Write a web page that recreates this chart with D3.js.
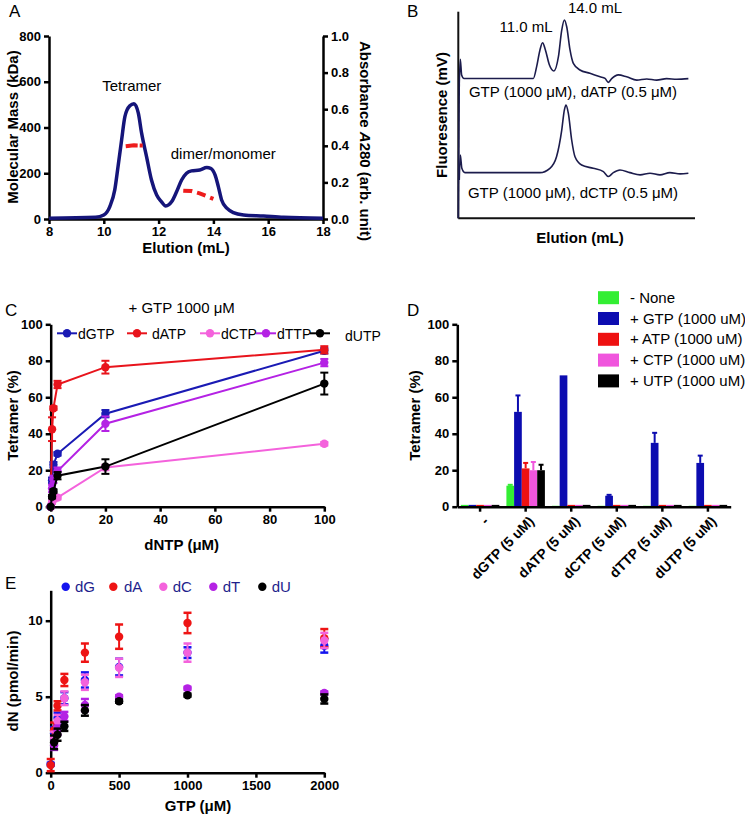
<!DOCTYPE html>
<html><head><meta charset="utf-8">
<script src="https://cdn.jsdelivr.net/npm/d3@7"></script>
<style>
body{margin:0;background:#fff;}
svg{display:block;font-family:'Liberation Sans',Arial,Helvetica,sans-serif;}
.axis path,.axis line{stroke:#000;stroke-width:2.5px;}
.axis text{font-size:13px;font-weight:bold;fill:#000;font-family:'Liberation Sans',Arial,Helvetica,sans-serif;}
.title{font-size:15px;font-weight:bold;fill:#000;}
.lbl{font-size:15px;fill:#000;}
.panel{font-size:17px;fill:#000;}
</style></head><body>
<svg id="fig" width="745" height="819"></svg>
<script>
// ---------- Panel A data ----------
const elutionA = [8, 9.7, 10.0, 10.22, 10.4, 10.52, 10.65, 10.77, 10.95, 11.1, 11.26, 11.38, 11.56, 11.74, 11.93, 12.1, 12.26, 12.48, 12.66, 12.84, 13.02, 13.2, 13.5, 13.76, 13.9, 14.06, 14.18, 14.3, 14.5, 14.73, 15.1, 15.83, 16.56, 18];
const absorbanceA = [0.004, 0.009, 0.022, 0.068, 0.159, 0.287, 0.432, 0.56, 0.619, 0.63, 0.578, 0.469, 0.341, 0.213, 0.131, 0.095, 0.071, 0.095, 0.15, 0.213, 0.25, 0.263, 0.268, 0.281, 0.277, 0.241, 0.177, 0.104, 0.058, 0.035, 0.022, 0.016, 0.009, 0.004];
const tetramerMassX = [10.8, 11.1, 11.42];
const tetramerMassY = [318, 322, 321];
const dimerMassX = [12.9, 13.2, 13.5, 13.75, 14.0];
const dimerMassY = [124, 122, 112, 100, 88];
const massTicks = [0, 200, 400, 600, 800];
const absTicks = [0, 0.2, 0.4, 0.6, 0.8, 1.0];
const elutionTicks = [8, 10, 12, 14, 16, 18];

// ---------- Panel B data (arbitrary units) ----------
const traceTopX = [0.4, 0.85, 1.4, 2.4, 31.7, 33.1, 34.5, 35.6, 36.8, 38.5, 40.4, 42.3, 43.7, 44.8, 45.8, 47.2, 48.6, 51.4, 55.6, 59.9, 62, 63.4, 64.8, 67.6, 71.1, 75.4, 79.6, 83.8, 88, 92.3, 97.2];
const traceTopY = [65, 77, 69.4, 67.7, 67.7, 73.4, 81.5, 85, 81.5, 74.2, 71.3, 78.2, 91.1, 96, 92.7, 81.5, 75, 71.8, 70.2, 68.5, 67.7, 65.8, 67.6, 69.4, 68.5, 66.9, 67.4, 66.9, 67.6, 67.3, 67.6];
const traceBotX = [0.4, 0.85, 1.5, 2.8, 34.5, 38.7, 41.5, 43.7, 44.8, 45.5, 46.5, 47.9, 49.3, 52.1, 57, 61.3, 63.4, 65.5, 68.3, 72.5, 76.8, 81, 85.2, 89.4, 93.7, 97.2];
const traceBotY = [18.5, 30.6, 24.2, 22.1, 22.1, 24.2, 29.8, 42.7, 52.4, 54.8, 50.8, 37.9, 29.8, 25.8, 24.2, 22.6, 20.2, 22.1, 23.4, 22.1, 21, 21.8, 21, 22.1, 21.5, 21.8];

// ---------- Panel C data ----------
const dntpConc = [0, 0.5, 1, 2.5, 20, 100];
const cNames = ["dGTP", "dATP", "dCTP", "dTTP", "dUTP"];
const cGTP = [0, 14.5, 23, 29, 51, 85.5];
const cGTPerr = [0, 1.5, 1.5, 1, 2, 1.5];
const cATP = [0, 42.5, 54, 67, 76.5, 86];
const cATPerr = [0, 6.5, 1, 2, 3.5, 2];
const cCTP = [0, 2.5, 4, 5, 21.5, 34.5];
const cCTPerr = [0, 1, 1, 1, 1.5, 1];
const cTTP = [0, 10, 15, 19.5, 45.5, 79];
const cTTPerr = [0, 2, 2, 2, 4, 2];
const cUTP = [0, 5.5, 8.5, 17, 22, 67.5];
const cUTPerr = [0, 1, 1, 2, 4, 6];
const pctTicks = [0, 20, 40, 60, 80, 100];

// ---------- Panel D data ----------
const dGroups = ["-", "dGTP (5 uM)", "dATP (5 uM)", "dCTP (5 uM)", "dTTP (5 uM)", "dUTP (5 uM)"];
const dSeries = ["-  None", "+ GTP (1000 uM)", "+ ATP (1000 uM)", "+ CTP (1000 uM)", "+ UTP (1000 uM)"];
const dNone = [1, 11.5, 0.5, 0.5, 0.5, 0.5];
const dNoneErr = [0, 0.5, 0, 0, 0, 0];
const dGTPv = [1, 52, 72, 6, 35, 24];
const dGTPerr = [0, 9, 0, 0.5, 5.5, 4];
const dATPv = [1, 21, 1, 1, 1, 1];
const dATPerr = [0, 3, 0, 0, 0, 0];
const dCTPv = [1, 20, 1, 1, 1, 1];
const dCTPerr = [0, 4.5, 0, 0, 0, 0];
const dUTPv = [1, 20, 1, 1, 1, 1];
const dUTPerr = [0, 3, 0, 0, 0, 0];

// ---------- Panel E data ----------
const gtpConc = [0, 25, 50, 100, 250, 500, 1000, 2000];
const eNames = ["dG", "dA", "dC", "dT", "dU"];
const eG = [0.55, 2.6, 3.6, 4.9, 6.1, 6.95, 7.9, 8.35];
const eGerr = [0.1, 0.4, 0.35, 0.4, 0.5, 0.55, 0.35, 0.45];
const eA = [0.5, 2.8, 4.4, 6.1, 7.9, 8.95, 9.85, 8.85];
const eAerr = [0.4, 0.5, 0.3, 0.4, 0.6, 0.8, 0.67, 0.6];
const eC = [null, 2.3, 3.4, 4.9, 5.95, 6.9, 7.9, 8.7];
const eCerr = [0, 0.4, 0.4, 0.45, 0.5, 0.6, 0.6, 0.5];
const eT = [null, 1.8, 2.8, 3.7, 4.45, 5.0, 5.55, 5.25];
const eTerr = [0, 0.3, 0.3, 0.3, 0.4, 0.1, 0.1, 0.1];
const eU = [null, 2.0, 2.5, 3.05, 4.1, 4.7, 5.1, 4.85];
const eUerr = [0, 0.45, 0.4, 0.3, 0.35, 0.1, 0.1, 0.3];
const eTicksX = [0, 500, 1000, 1500, 2000];
const eTicksY = [0, 5, 10];

// ---------- drawing ----------
const svg = d3.select("#fig");
const TS = 5;
function ax(g) { g.attr("class", "axis"); return g; }

// ===== Panel A =====
(function(){
  const x = d3.scaleLinear().domain([8, 18]).range([49, 323]);
  const yL = d3.scaleLinear().domain([0, 800]).range([219, 36]);
  const yR = d3.scaleLinear().domain([0, 1]).range([219, 36]);
  const g = svg.append("g");
  g.append("g").call(ax).attr("transform", "translate(0,219)")
    .call(d3.axisBottom(x).tickValues(elutionTicks).tickSize(TS).tickSizeOuter(0).tickFormat(d3.format("d")));
  g.append("g").call(ax).attr("transform", "translate(49,0)")
    .call(d3.axisLeft(yL).tickValues(massTicks).tickSize(TS).tickSizeOuter(0));
  g.append("g").call(ax).attr("transform", "translate(323,0)")
    .call(d3.axisRight(yR).tickValues(absTicks).tickSize(TS).tickSizeOuter(0).tickFormat(d3.format(".1f")));
  const pts = elutionA.map((e, i) => [e, absorbanceA[i]]);
  g.append("path").datum(pts).attr("fill", "none").attr("stroke", "#15157a").attr("stroke-width", 3.5)
    .attr("d", d3.line().x(d => x(d[0])).y(d => yR(d[1])).curve(d3.curveMonotoneX));
  const ml = d3.line().x(d => x(d[0])).y(d => yL(d[1]));
  g.append("path").datum(tetramerMassX.map((e, i) => [e, tetramerMassY[i]]))
    .attr("fill", "none").attr("stroke", "#ee1c1c").attr("stroke-width", 4).attr("stroke-dasharray", "12,2").attr("d", ml);
  g.append("path").datum(dimerMassX.map((e, i) => [e, dimerMassY[i]]))
    .attr("fill", "none").attr("stroke", "#ee1c1c").attr("stroke-width", 4).attr("stroke-dasharray", "9,5").attr("d", ml);
  g.append("text").attr("class", "panel").attr("x", 9).attr("y", 17).text("A");
  g.append("text").attr("class", "lbl").attr("x", x(11.02)).attr("y", 91).attr("text-anchor", "middle").text("Tetramer");
  g.append("text").attr("class", "lbl").attr("x", x(14.36)).attr("y", 159).attr("text-anchor", "middle").text("dimer/monomer");
  g.append("text").attr("class", "title").attr("transform", "translate(18,127) rotate(-90)").attr("text-anchor", "middle").text("Molecular Mass (kDa)");
  const t = g.append("text").attr("class", "title").attr("transform", "translate(360,141) rotate(90)").attr("text-anchor", "middle");
  t.append("tspan").text("Absorbance ");
  t.append("tspan").attr("font-style", "italic").text("A");
  t.append("tspan").text("280 (arb. unit)");
  g.append("text").attr("class", "title").attr("x", 186).attr("y", 253).attr("text-anchor", "middle").text("Elution (mL)");
})();

// ===== Panel B =====
(function(){
  const x = d3.scaleLinear().domain([0, 100]).range([458.3, 695]);
  const y = d3.scaleLinear().domain([0, 100]).range([218.3, 11.7]);
  const g = svg.append("g");
  g.append("line").attr("x1", x(0)).attr("x2", x(0)).attr("y1", y(0)).attr("y2", y(100)).attr("stroke", "#111").attr("stroke-width", 2);
  g.append("line").attr("x1", x(0)).attr("x2", x(100)).attr("y1", y(0)).attr("y2", y(0)).attr("stroke", "#111").attr("stroke-width", 2);
  const line = d3.line().x(d => x(d[0])).y(d => y(d[1])).curve(d3.curveMonotoneX);
  g.append("path").datum(traceTopX.map((v, i) => [v, traceTopY[i]])).attr("fill", "none").attr("stroke", "#1c1c4c").attr("stroke-width", 1.6).attr("d", line);
  g.append("path").datum(traceBotX.map((v, i) => [v, traceBotY[i]])).attr("fill", "none").attr("stroke", "#1c1c4c").attr("stroke-width", 1.6).attr("d", line);
  g.append("path").datum([[0, 0], [0.4, 65]]).attr("fill", "none").attr("stroke", "#1c1c4c").attr("stroke-width", 1.6).attr("d", d3.line().x(d => x(d[0])).y(d => y(d[1])));
  g.append("text").attr("class", "panel").attr("x", 407).attr("y", 17).text("B");
  g.append("text").attr("class", "lbl").attr("x", 526).attr("y", 32).attr("text-anchor", "middle").text("11.0 mL");
  g.append("text").attr("class", "lbl").attr("x", 595).attr("y", 13).attr("text-anchor", "middle").text("14.0 mL");
  g.append("text").attr("class", "lbl").attr("x", 573).attr("y", 97).attr("text-anchor", "middle").text("GTP (1000 \u03bcM), dATP (0.5 \u03bcM)");
  g.append("text").attr("class", "lbl").attr("x", 573).attr("y", 198).attr("text-anchor", "middle").text("GTP (1000 \u03bcM), dCTP (0.5 \u03bcM)");
  g.append("text").attr("class", "title").attr("transform", "translate(447,115) rotate(-90)").attr("text-anchor", "middle").text("Fluoresence (mV)");
  g.append("text").attr("class", "title").attr("x", 580).attr("y", 243).attr("text-anchor", "middle").text("Elution (mL)");
})();

// ===== Panel C =====
(function(){
  const x = d3.scaleLinear().domain([0, 100]).range([50.7, 324.3]);
  const y = d3.scaleLinear().domain([0, 100]).range([506.7, 324.3]);
  const g = svg.append("g");
  g.append("g").call(ax).attr("transform", "translate(0,506.7)")
    .call(d3.axisBottom(x).tickValues(pctTicks).tickSize(TS).tickSizeOuter(0));
  g.append("g").call(ax).attr("transform", "translate(50.7,0)")
    .call(d3.axisLeft(y).tickValues(pctTicks).tickSize(TS).tickSizeOuter(0));
  const series = [
    {v: cGTP, e: cGTPerr, c: "#1a1ab4"},
    {v: cATP, e: cATPerr, c: "#e8141c"},
    {v: cCTP, e: cCTPerr, c: "#f462dc"},
    {v: cTTP, e: cTTPerr, c: "#b422e4"},
    {v: cUTP, e: cUTPerr, c: "#000000"}
  ];
  const line = d3.line().x(d => x(d[0])).y(d => y(d[1]));
  series.forEach(s => {
    const pts = dntpConc.map((c, i) => [c, s.v[i], s.e[i]]);
    const sg = g.append("g");
    sg.append("path").datum(pts).attr("fill", "none").attr("stroke", s.c).attr("stroke-width", 2).attr("d", line);
    pts.filter(p => p[2] > 0).forEach(p => {
      const xx = x(p[0]);
      sg.append("line").attr("x1", xx).attr("x2", xx).attr("y1", y(p[1] - p[2])).attr("y2", y(p[1] + p[2])).attr("stroke", s.c).attr("stroke-width", 2);
      [p[1] - p[2], p[1] + p[2]].forEach(v => sg.append("line").attr("x1", xx - 4).attr("x2", xx + 4).attr("y1", y(v)).attr("y2", y(v)).attr("stroke", s.c).attr("stroke-width", 2));
    });
    sg.selectAll("circle").data(pts).join("circle").attr("cx", d => x(d[0])).attr("cy", d => y(d[1])).attr("r", 4.2).attr("fill", s.c);
  });
  // legend
  const legX = [67, 137, 210, 266, 320];
  const legT = [78, 152, 221, 277, 345];
  const legTy = [338.5, 338.5, 338.5, 338.5, 341];
  series.forEach((s, i) => {
    const cy = 333.3;
    g.append("line").attr("x1", legX[i] - 10).attr("x2", legX[i] + 10).attr("y1", cy).attr("y2", cy).attr("stroke", s.c).attr("stroke-width", 2);
    g.append("circle").attr("cx", legX[i]).attr("cy", cy).attr("r", 4.2).attr("fill", s.c);
    g.append("text").attr("class", "lbl").style("font-size", "14px").attr("x", legT[i]).attr("y", legTy[i]).text(cNames[i]);
  });
  g.append("text").attr("class", "panel").attr("x", 5).attr("y", 316).text("C");
  g.append("text").attr("class", "lbl").attr("x", 181.7).attr("y", 313).attr("text-anchor", "middle").text("+ GTP 1000 \u03bcM");
  g.append("text").attr("class", "title").attr("transform", "translate(18,415.5) rotate(-90)").attr("text-anchor", "middle").text("Tetramer (%)");
  g.append("text").attr("class", "title").attr("x", 181.7).attr("y", 550).attr("text-anchor", "middle").text("dNTP (\u03bcM)");
})();

// ===== Panel D =====
(function(){
  const x0 = d3.scaleBand().domain(dGroups).range([457.3, 730.7]).paddingInner(0).paddingOuter(0);
  const x1 = d3.scaleBand().domain(dSeries).range([0, x0.bandwidth()]).paddingInner(0).paddingOuter(0.46);
  const y = d3.scaleLinear().domain([0, 100]).range([506.7, 324.3]);
  const colors = ["#33ee33", "#0c0cb0", "#ee1111", "#f055dd", "#000000"];
  const vals = [dNone, dGTPv, dATPv, dCTPv, dUTPv];
  const errs = [dNoneErr, dGTPerr, dATPerr, dCTPerr, dUTPerr];
  const g = svg.append("g");
  dGroups.forEach((grp, gi) => {
    dSeries.forEach((s, si) => {
      const v = vals[si][gi], e = errs[si][gi];
      const bx = x0(grp) + x1(s), bw = x1.bandwidth();
      if (e > 0) {
        const cx = bx + bw / 2;
        g.append("line").attr("x1", cx).attr("x2", cx).attr("y1", y(v)).attr("y2", y(v + e)).attr("stroke", colors[si]).attr("stroke-width", 2);
        g.append("line").attr("x1", cx - 2.5).attr("x2", cx + 2.5).attr("y1", y(v + e)).attr("y2", y(v + e)).attr("stroke", colors[si]).attr("stroke-width", 2);
      }
      g.append("rect").attr("x", bx).attr("y", y(v)).attr("width", bw).attr("height", y(0) - y(v)).attr("fill", colors[si]);
    });
  });
  g.append("g").call(ax).attr("transform", "translate(457.3,0)")
    .call(d3.axisLeft(y).tickValues(pctTicks).tickSize(TS).tickSizeOuter(0));
  const xa = g.append("g").call(ax).attr("transform", "translate(0,506.7)")
    .call(d3.axisBottom(x0).tickSize(TS).tickSizeOuter(0));
  xa.selectAll("text").attr("text-anchor", "end").attr("dy", "0.35em")
    .attr("transform", "translate(6,12) rotate(-45)").attr("x", 0).attr("y", 0).style("font-size", "14px");
  // legend
  dSeries.forEach((s, i) => {
    const cy = 297.7 + i * 20.8;
    g.append("rect").attr("x", 598).attr("y", cy - 6.5).attr("width", 21).attr("height", 13).attr("fill", colors[i]);
    g.append("text").attr("class", "lbl").attr("x", 630).attr("y", cy + 5).text(s);
  });
  g.append("text").attr("class", "panel").attr("x", 407).attr("y", 316).text("D");
  g.append("text").attr("class", "title").attr("transform", "translate(420,415.5) rotate(-90)").attr("text-anchor", "middle").text("Tetramer (%)");
})();

// ===== Panel E =====
(function(){
  const x = d3.scaleLinear().domain([0, 2000]).range([50.7, 324.3]);
  const y = d3.scaleLinear().domain([0, 12]).range([772.7, 590.3]);
  const g = svg.append("g");
  g.append("g").call(ax).attr("transform", "translate(0,772.7)")
    .call(d3.axisBottom(x).tickValues(eTicksX).tickSize(TS).tickSizeOuter(0).tickFormat(d3.format("d")));
  g.append("g").call(ax).attr("transform", "translate(50.7,0)")
    .call(d3.axisLeft(y).tickValues(eTicksY).tickSize(TS).tickSizeOuter(0));
  const series = [
    {v: eG, e: eGerr, c: "#1414ee"},
    {v: eA, e: eAerr, c: "#ee1414"},
    {v: eC, e: eCerr, c: "#f462dc"},
    {v: eT, e: eTerr, c: "#b422e4"},
    {v: eU, e: eUerr, c: "#000000"}
  ];
  series.forEach(s => {
    const pts = gtpConc.map((c, i) => [c, s.v[i], s.e[i]]).filter(p => p[1] !== null);
    const sg = g.append("g");
    pts.filter(p => p[2] > 0).forEach(p => {
      const xx = x(p[0]);
      sg.append("line").attr("x1", xx).attr("x2", xx).attr("y1", y(p[1] - p[2])).attr("y2", y(p[1] + p[2])).attr("stroke", s.c).attr("stroke-width", 2);
      [p[1] - p[2], p[1] + p[2]].forEach(v => sg.append("line").attr("x1", xx - 4).attr("x2", xx + 4).attr("y1", y(v)).attr("y2", y(v)).attr("stroke", s.c).attr("stroke-width", 2.5));
    });
    sg.selectAll("circle").data(pts).join("circle").attr("cx", d => x(d[0])).attr("cy", d => y(d[1])).attr("r", 4.2).attr("fill", s.c);
  });
  const legX = [65.7, 113.3, 163.3, 213.3, 262.3];
  const legT = [75, 124, 172.7, 222.7, 271.7];
  series.forEach((s, i) => {
    g.append("circle").attr("cx", legX[i]).attr("cy", 586.7).attr("r", 4.2).attr("fill", s.c);
    g.append("text").attr("class", "lbl").attr("x", legT[i]).attr("y", 592).style("fill", "#1e1e8c").text(eNames[i]);
  });
  g.append("text").attr("class", "panel").attr("x", 5).attr("y", 589).text("E");
  g.append("text").attr("class", "title").attr("transform", "translate(18,681) rotate(-90)").attr("text-anchor", "middle").text("dN (pmol/min)");
  g.append("text").attr("class", "title").attr("x", 198).attr("y", 811).attr("text-anchor", "middle").text("GTP (\u03bcM)");
})();
</script></body></html>
